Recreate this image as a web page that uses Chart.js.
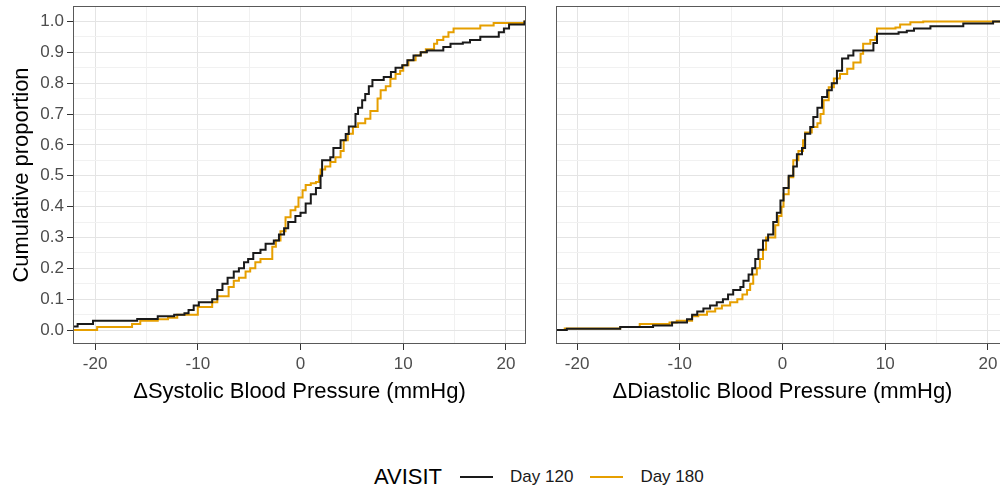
<!DOCTYPE html>
<html lang="en">
<head>
  <meta charset="UTF-8" />
  <title>Cumulative proportion of change in blood pressure</title>
  <script src="https://cdn.jsdelivr.net/npm/chart.js"></script>
  <style>
    html, body {
      margin: 0;
      padding: 0;
      background: #fff;
      overflow: hidden;
    }
    #wrap {
      position: relative;
      width: 1000px;
      height: 491px;
      overflow: hidden;
      font-family: "Liberation Sans", Arial, sans-serif;
    }
    canvas {
      position: absolute;
      top: 0;
    }
    #legend {
      position: absolute;
      left: 374px;
      top: 463px;
      height: 28px;
      display: flex;
      align-items: center;
      white-space: nowrap;
    }
    #legend .ttl {
      font-size: 22px;
      color: #000;
      margin-right: 18px;
    }
    #legend .key {
      display: inline-block;
      width: 33px;
      height: 2px;
      margin-right: 17px;
    }
    #legend .lab {
      font-size: 17px;
      color: #1a1a1a;
      margin-right: 17px;
    }
  </style>
</head>
<body>
<div id="wrap">
  <canvas id="sbpChart" width="530" height="410" style="left:0px"></canvas>
  <canvas id="dbpChart" width="470" height="410" style="left:540px"></canvas>
  <div id="legend"></div>
</div>

<script>
  // ---- data (ECDF steps) ----
  const seriesNames = ['Day 120', 'Day 180'];
  const seriesColors = ['#1a1a1a', '#E69F00'];
  const legendTitle = 'AVISIT';
  const panelTitles = ['\u0394Systolic Blood Pressure (mmHg)', '\u0394Diastolic Blood Pressure (mmHg)'];
  const yTitle = 'Cumulative proportion';

  const xMajor = [-20, -10, 0, 10, 20];
  const xMinor = [-15, -5, 5, 15];
  const yMajor = [0, 0.1, 0.2, 0.3, 0.4, 0.5, 0.6, 0.7, 0.8, 0.9, 1.0];
  const yMinor = [0.05, 0.15, 0.25, 0.35, 0.45, 0.55, 0.65, 0.75, 0.85, 0.95];

  // systolic, Day 120
  const sbp120X = [-30, -22.5, -21.7, -20.2, -15.9, -13.9, -12.3, -11.3, -10.9, -10.4, -9.9, -8.6, -8.1, -7.6, -7.1, -6.5, -6.0, -5.5, -5.1, -4.6, -3.9, -3.4, -2.6, -2.1, -1.6, -1.2, -0.5, 0.0, 0.5, 1.0, 1.5, 1.95, 2.1, 2.9, 3.2, 3.9, 4.4, 4.7, 5.35, 5.6, 6.0, 6.3, 6.65, 7.0, 8.1, 8.8, 9.25, 9.9, 10.4, 11.0, 11.7, 12.3, 13.9, 14.6, 15.8, 16.5, 17.5, 19.3, 19.8, 20.3, 21.8, 30];
  const sbp120Y = [0, 0.012, 0.02, 0.03, 0.036, 0.045, 0.05, 0.055, 0.065, 0.08, 0.09, 0.10, 0.13, 0.15, 0.17, 0.19, 0.20, 0.22, 0.23, 0.25, 0.26, 0.28, 0.29, 0.31, 0.33, 0.35, 0.37, 0.38, 0.41, 0.44, 0.46, 0.50, 0.55, 0.56, 0.59, 0.615, 0.635, 0.66, 0.70, 0.72, 0.745, 0.765, 0.79, 0.81, 0.82, 0.836, 0.85, 0.858, 0.874, 0.89, 0.90, 0.906, 0.917, 0.928, 0.932, 0.94, 0.95, 0.965, 0.977, 0.99, 1.0, 1.0];

  // systolic, Day 180
  const sbp180X = [-30, -19.8, -16.4, -15.6, -13.9, -12.9, -12.0, -10.0, -8.6, -8.1, -7.0, -6.5, -6.0, -5.35, -4.9, -4.4, -3.9, -2.75, -2.4, -1.95, -1.46, -0.97, -0.5, -0.2, 0.2, 0.5, 1.0, 1.5, 1.8, 1.95, 2.4, 2.9, 3.4, 3.9, 4.2, 4.6, 5.1, 5.6, 6.3, 6.8, 7.5, 7.8, 8.3, 8.75, 9.25, 9.7, 10.0, 10.5, 11.2, 11.7, 12.2, 13.0, 13.3, 13.9, 14.4, 14.9, 17.5, 18.8, 21.8, 30];
  const sbp180Y = [0, 0.01, 0.02, 0.03, 0.035, 0.04, 0.05, 0.075, 0.09, 0.11, 0.14, 0.16, 0.17, 0.19, 0.20, 0.22, 0.23, 0.27, 0.29, 0.32, 0.366, 0.388, 0.40, 0.43, 0.453, 0.47, 0.476, 0.48, 0.50, 0.52, 0.53, 0.545, 0.56, 0.58, 0.615, 0.636, 0.658, 0.67, 0.685, 0.71, 0.75, 0.777, 0.79, 0.814, 0.83, 0.84, 0.858, 0.874, 0.89, 0.90, 0.91, 0.928, 0.94, 0.95, 0.965, 0.977, 0.987, 0.995, 1.0, 1.0];

  // diastolic, Day 120
  const dbp120X = [-30, -21.0, -15.8, -12.6, -10.75, -9.3, -8.8, -8.3, -7.7, -7.05, -6.4, -5.8, -5.3, -4.8, -4.1, -3.8, -3.3, -2.95, -2.65, -2.35, -1.9, -1.4, -0.9, -0.55, -0.2, 0.1, 0.6, 1.05, 1.4, 1.9, 2.2, 2.7, 3.0, 3.4, 3.85, 4.35, 4.8, 5.3, 5.8, 6.4, 6.9, 8.85, 9.2, 11.3, 12.1, 12.8, 14.4, 17.6, 20.5, 30];
  const dbp120Y = [0, 0.004, 0.01, 0.015, 0.025, 0.035, 0.05, 0.06, 0.07, 0.08, 0.09, 0.10, 0.115, 0.13, 0.14, 0.16, 0.18, 0.20, 0.23, 0.26, 0.29, 0.31, 0.35, 0.38, 0.42, 0.46, 0.50, 0.53, 0.57, 0.59, 0.636, 0.658, 0.69, 0.72, 0.755, 0.777, 0.80, 0.84, 0.88, 0.89, 0.906, 0.93, 0.96, 0.965, 0.97, 0.977, 0.984, 0.993, 1.0, 1.0];

  // diastolic, Day 180
  const dbp180X = [-30, -21.2, -15.8, -13.9, -11.0, -10.3, -8.8, -8.2, -7.35, -6.55, -5.9, -5.1, -4.4, -3.9, -3.45, -3.15, -2.85, -2.5, -2.2, -1.9, -1.6, -0.7, -0.4, -0.1, 0.1, 0.6, 1.05, 1.55, 2.0, 2.2, 2.85, 3.4, 3.7, 4.0, 4.5, 5.0, 5.6, 6.3, 6.9, 7.6, 7.85, 8.55, 9.05, 9.2, 11.0, 11.45, 12.45, 13.7, 30];
  const dbp180Y = [0, 0.005, 0.01, 0.02, 0.025, 0.03, 0.045, 0.05, 0.06, 0.07, 0.08, 0.09, 0.10, 0.115, 0.13, 0.15, 0.18, 0.20, 0.23, 0.26, 0.30, 0.34, 0.37, 0.40, 0.44, 0.495, 0.55, 0.58, 0.615, 0.64, 0.658, 0.67, 0.70, 0.745, 0.787, 0.815, 0.83, 0.847, 0.867, 0.895, 0.928, 0.94, 0.95, 0.977, 0.98, 0.99, 0.997, 1.0, 1.0];

  const FONT = '"Liberation Sans", Arial, sans-serif';

  function pts(xs, ys) {
    return xs.map((x, i) => ({ x: x, y: ys[i] }));
  }

  const isMajorX = v => xMajor.includes(v);
  const isMajorY = v => yMajor.some(m => Math.abs(m - v) < 1e-9);

  // panel border drawn over the data, like ggplot's theme_bw
  const panelBox = {
    id: 'panelBox',
    afterDatasetsDraw(chart) {
      const a = chart.chartArea;
      const ctx = chart.ctx;
      ctx.save();
      ctx.strokeStyle = '#595959';
      ctx.lineWidth = 1;
      ctx.strokeRect(a.left + 0.5, a.top + 0.5, a.right - a.left - 1, a.bottom - a.top - 1);
      ctx.restore();
    }
  };

  function makeChart(id, title, s120, s180, xMin, xMax, showY) {
    const ctx = document.getElementById(id).getContext('2d');
    return new Chart(ctx, {
      type: 'line',
      data: {
        datasets: [
          { label: seriesNames[0], data: s120, borderColor: seriesColors[0], borderWidth: 2, pointRadius: 0, stepped: 'before', fill: false },
          { label: seriesNames[1], data: s180, borderColor: seriesColors[1], borderWidth: 2, pointRadius: 0, stepped: 'before', fill: false }
        ]
      },
      options: {
        responsive: false,
        animation: false,
        devicePixelRatio: 1,
        layout: { padding: { top: 6, right: showY ? 4 : 1, bottom: 0, left: 0 } },
        plugins: {
          legend: { display: false },
          tooltip: { enabled: false }
        },
        scales: {
          x: {
            type: 'linear',
            min: xMin,
            max: xMax,
            border: { display: false },
            afterBuildTicks: sc => { sc.ticks = xMajor.concat(xMinor).sort((a, b) => a - b).map(v => ({ value: v })); },
            afterFit: sc => { sc.height = 66; sc.paddingLeft = 0; sc.paddingRight = 0; },
            grid: {
              color: c => isMajorX(c.tick.value) ? '#e4e4e4' : '#f1f1f1',
              lineWidth: 1,
              tickLength: 6,
              tickWidth: 1,
              tickColor: c => isMajorX(c.tick.value) ? '#333333' : 'rgba(0,0,0,0)'
            },
            ticks: {
              autoSkip: false,
              maxRotation: 0,
              padding: 4,
              color: '#4d4d4d',
              font: { family: FONT, size: 17 },
              callback: v => isMajorX(v) ? String(v) : ''
            },
            title: {
              display: true,
              text: title,
              color: '#000',
              font: { family: FONT, size: 22 },
              padding: { top: 0, bottom: 5 }
            }
          },
          y: {
            type: 'linear',
            min: -0.045,
            max: 1.05,
            border: { display: false },
            afterBuildTicks: sc => { sc.ticks = yMajor.concat(yMinor).sort((a, b) => a - b).map(v => ({ value: v })); },
            afterFit: sc => { sc.width = showY ? 73 : 16; sc.paddingTop = 0; sc.paddingBottom = 0; },
            grid: {
              color: c => isMajorY(c.tick.value) ? '#e4e4e4' : '#f1f1f1',
              lineWidth: 1,
              drawTicks: showY,
              tickLength: 6,
              tickWidth: 1,
              tickColor: c => isMajorY(c.tick.value) ? '#333333' : 'rgba(0,0,0,0)'
            },
            ticks: {
              display: showY,
              autoSkip: false,
              padding: 3,
              color: '#4d4d4d',
              font: { family: FONT, size: 17 },
              callback: v => isMajorY(v) ? v.toFixed(1) : ''
            },
            title: {
              display: showY,
              text: yTitle,
              color: '#000',
              font: { family: FONT, size: 22 },
              padding: { top: 9, bottom: 0 }
            }
          }
        }
      },
      plugins: [panelBox]
    });
  }

  makeChart('sbpChart', panelTitles[0], pts(sbp120X, sbp120Y), pts(sbp180X, sbp180Y), -22.15, 21.95, true);
  makeChart('dbpChart', panelTitles[1], pts(dbp120X, dbp120Y), pts(dbp180X, dbp180Y), -22.05, 22.05, false);

  // legend along the bottom
  const legend = document.getElementById('legend');
  let html = '<span class="ttl">' + legendTitle + '</span>';
  seriesNames.forEach((n, i) => {
    html += '<span class="key" style="background:' + seriesColors[i] + '"></span><span class="lab">' + n + '</span>';
  });
  legend.innerHTML = html;
</script>
</body>
</html>
